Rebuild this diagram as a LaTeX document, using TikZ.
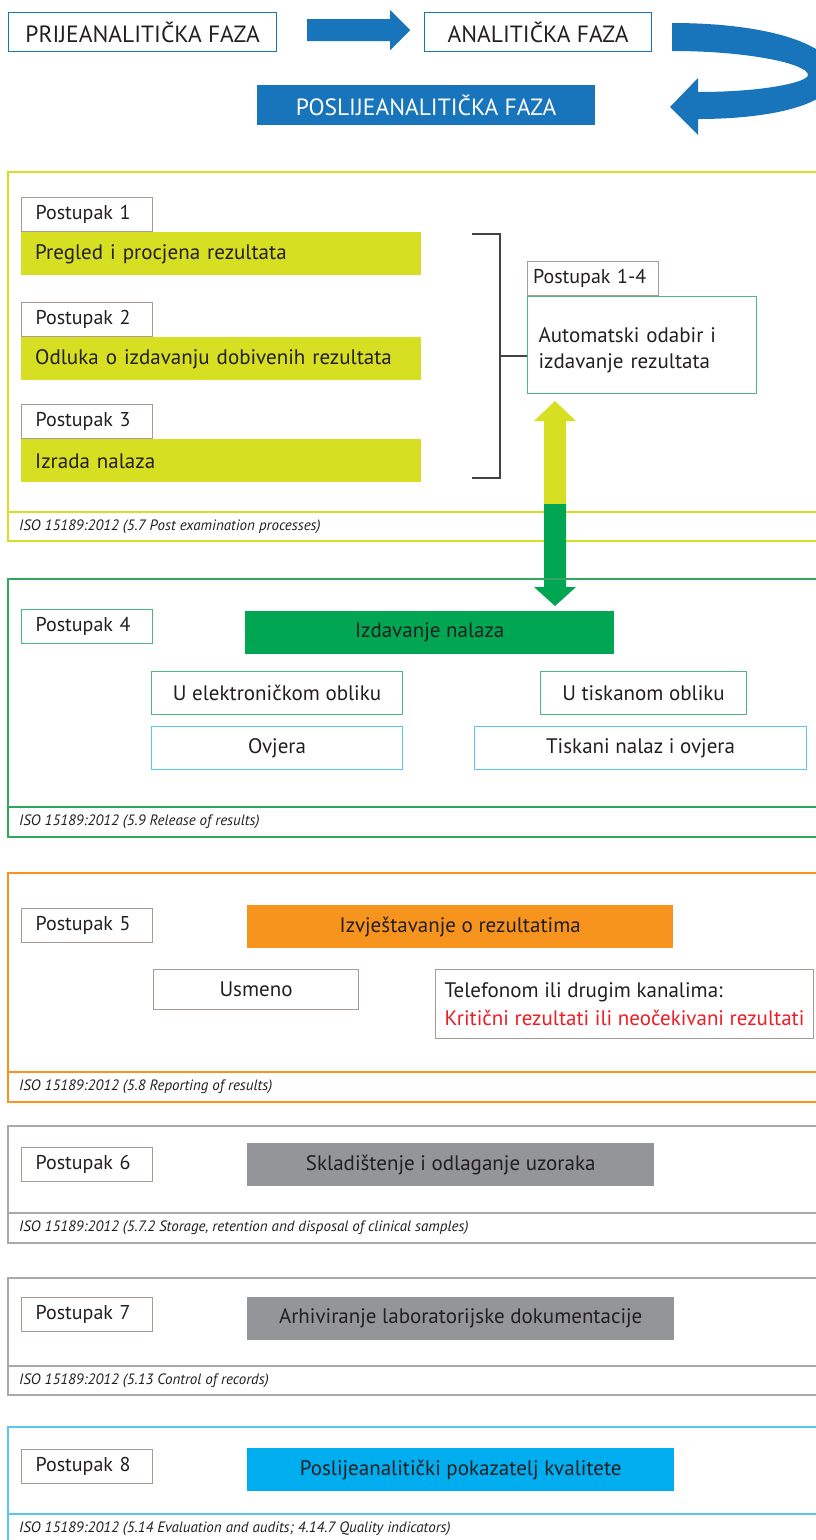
\documentclass[tikz,border=0pt]{standalone}
\usepackage{fontspec}
\setmainfont{PT Sans}
\usepackage{xcolor}
\usetikzlibrary{calc}

\definecolor{fazablue}{HTML}{1874BB}
\definecolor{limec}{HTML}{D7DF23}
\definecolor{greenc}{HTML}{00A651}
\definecolor{lightgreen}{HTML}{4CBB7A}
\definecolor{framegreen}{HTML}{2EA85E}
\definecolor{skyc}{HTML}{5BC5F2}
\definecolor{orangec}{HTML}{F7941D}
\definecolor{grayc}{HTML}{939598}
\definecolor{framegray}{HTML}{A7A9AC}
\definecolor{cyanc}{HTML}{00AEEF}
\definecolor{tagc}{HTML}{A89A94}
\definecolor{textc}{HTML}{231F20}
\definecolor{redc}{HTML}{ED1C24}

\newcommand{\fsz}[1]{\fontsize{#1}{#1}\selectfont}

\begin{document}
\begin{tikzpicture}[x=1pt, y=-1pt,
    every node/.style={text=textc, inner sep=0pt},
    fazabox/.style={draw=fazablue, line width=1.2pt, anchor=north west, minimum height=39pt, font=\fsz{23.5}},
    tagbox/.style={draw=tagc, line width=1.1pt, fill=white, anchor=north west, minimum height=34pt, text width=103pt, inner xsep=14pt, align=left, font=\fsz{20}},
    limebar/.style={fill=limec, anchor=north west, minimum height=43pt, text width=372pt, inner xsep=14pt, align=left, font=\fsz{21}},
    fillbar/.style={fill=#1, anchor=north west, minimum height=43pt, font=\fsz{21}},
    optbox/.style={draw=#1, line width=1.1pt, anchor=north west, minimum height=43pt, font=\fsz{21}},
    sect/.style={draw=#1, line width=1.2pt},
    isotext/.style={anchor=west, font=\fsz{15}\itshape},
    bracket/.style={draw=textc!85, line width=1.2pt}]
    \useasboundingbox (0,0) rectangle (816,1540);

    % Faze
    \node[fazabox, minimum width=268pt] (faza1) at (8,12) {PRIJEANALITIČKA FAZA};
    \node[fazabox, minimum width=227pt] (faza2) at (424,12) {ANALITIČKA FAZA};
    \node[fazabox, fill=fazablue, text=white, minimum width=337pt] (faza3) at (257,85) {POSLIJEANALITIČKA FAZA};
    \coordinate (a1) at ($(faza1.east)+(30,-2)$);
    \fill[fazablue] (a1) ++(0,-11) -- ++(83,0) -- ++(0,-9) -- ++(20,20) -- ++(-20,20) -- ++(0,-9) -- ++(-83,0) -- cycle;
    \fill[fazablue] (672,23) .. controls (770,23) and (835,45) .. (835,75)
        .. controls (835,105) and (770,119) .. (698,119)
        -- (698,135) -- (670,107) -- (698,78) -- (698,92)
        .. controls (765,92) and (808,82) .. (808,75)
        .. controls (808,64) and (750,51) .. (672,51) -- cycle;

    % Postupak 1-3
    \draw[sect=limec] (8,172) rectangle (820,541);
    \draw[sect=limec] (8,512) -- (820,512);
    \node[isotext] (iso1) at (19,527) {ISO 15189:2012 (5.7 Post examination processes)};
    \foreach \n/\y/\txt in {1/197/Pregled i procjena rezultata, 2/302/Odluka o izdavanju dobivenih rezultata, 3/404/Izrada nalaza} {
        \node[tagbox] (p\n) at (21,\y) {Postupak \n};
        \node[limebar] (b\n) at (p\n.south west) {\txt};
    }
    \node[tagbox, text width=120pt, inner xsep=5.5pt] (p14) at (527,261) {Postupak 1-4};
    \node[draw=lightgreen, line width=1.1pt, anchor=north west, minimum height=97pt, text width=207pt, inner xsep=11pt, align=left,
        font=\fontsize{21}{26}\selectfont] (auto) at (p14.south west) {\rule{0pt}{25pt}Automatski odabir i\\izdavanje rezultata};
    \coordinate (brtop) at (472,234);
    \coordinate (brbot) at (472,478);
    \draw[bracket] (brtop) -- ++(28,0) coordinate (brtr) -- (brtr |- brbot) -- (brbot);
    \coordinate (brmid) at ($(brtr)!0.5!(brtr |- brbot)$);
    \draw[bracket] (brmid) -- (brmid -| auto.west);

    % dvostruka strelica
    \coordinate (dtip) at (555,401);
    \fill[limec] (dtip) -- ++(21,20) -- ++(-10,0) -- ++(0,83) -- ++(-22,0) -- ++(0,-83) -- ++(-10,0) -- cycle;
    \fill[greenc] (544,504) -- ++(22,0) -- ++(0,83) -- ++(10,0) -- ++(-21,19) -- ++(-21,-19) -- ++(10,0) -- cycle;

    % Postupak 4
    \draw[sect=framegreen] (8,579) rectangle (820,837);
    \draw[sect=framegreen] (8,807) -- (820,807);
    \node[isotext] (iso4) at (19,822) {ISO 15189:2012 (5.9 Release of results)};
    \node[tagbox, draw=lightgreen] (p4) at (21,609) {Postupak 4};
    \node[fillbar=greenc, minimum width=369pt] (izd) at (245,611) {Izdavanje nalaza};
    \node[optbox=lightgreen, minimum width=251pt] (elek) at (151,671) {U elektroničkom obliku};
    \node[optbox=lightgreen, minimum width=206pt] (tisk) at (540,671) {U tiskanom obliku};
    \node[optbox=skyc, minimum width=251pt] (ovj) at (151,726) {Ovjera};
    \node[optbox=skyc, minimum width=332pt] (tnal) at (474,726) {Tiskani nalaz i ovjera};

    % Postupak 5
    \draw[sect=orangec] (8,873) rectangle (820,1102);
    \draw[sect=orangec] (8,1072) -- (820,1072);
    \node[isotext] (iso5) at (19,1087) {ISO 15189:2012 (5.8 Reporting of results)};
    \node[tagbox] (p5) at (21,908) {Postupak 5};
    \node[fillbar=orangec, minimum width=426pt] (izv) at (247,905) {Izvještavanje o rezultatima};
    \node[optbox=tagc, minimum width=205pt, minimum height=40pt] (usm) at (153,969) {Usmeno};
    \node[draw=tagc, line width=1.1pt, anchor=north west, minimum height=69pt, minimum width=378pt, align=left,
        font=\fontsize{21}{28}\selectfont] (tel) at (435,969) {Telefonom ili drugim kanalima:\\\textcolor{redc}{Kritični rezultati ili neočekivani rezultati}};

    % Postupak 6
    \draw[sect=framegray] (8,1126) rectangle (820,1243);
    \draw[sect=framegray] (8,1213) -- (820,1213);
    \node[isotext] (iso6) at (19,1228) {ISO 15189:2012 (5.7.2 Storage, retention and disposal of clinical samples)};
    \node[tagbox] (p6) at (21,1147) {Postupak 6};
    \node[fillbar=grayc, minimum width=407pt] (skl) at (247,1143) {Skladištenje i odlaganje uzoraka};

    % Postupak 7
    \draw[sect=framegray] (8,1278) rectangle (820,1395);
    \draw[sect=framegray] (8,1366) -- (820,1366);
    \node[isotext] (iso7) at (19,1381) {ISO 15189:2012 (5.13 Control of records)};
    \node[tagbox] (p7) at (21,1297) {Postupak 7};
    \node[fillbar=grayc, minimum width=427pt] (arh) at (247,1297) {Arhiviranje laboratorijske dokumentacije};

    % Postupak 8
    \draw[sect=skyc] (8,1427) rectangle (820,1548);
    \draw[sect=skyc] (8,1514) -- (820,1514);
    \node[isotext] (iso8) at (19,1529) {ISO 15189:2012 (5.14 Evaluation and audits; 4.14.7 Quality indicators)};
    \node[tagbox] (p8) at (21,1449) {Postupak 8};
    \node[fillbar=cyanc, minimum width=427pt] (pok) at (247,1448) {Poslijeanalitički pokazatelj kvalitete};
\end{tikzpicture}
\end{document}
